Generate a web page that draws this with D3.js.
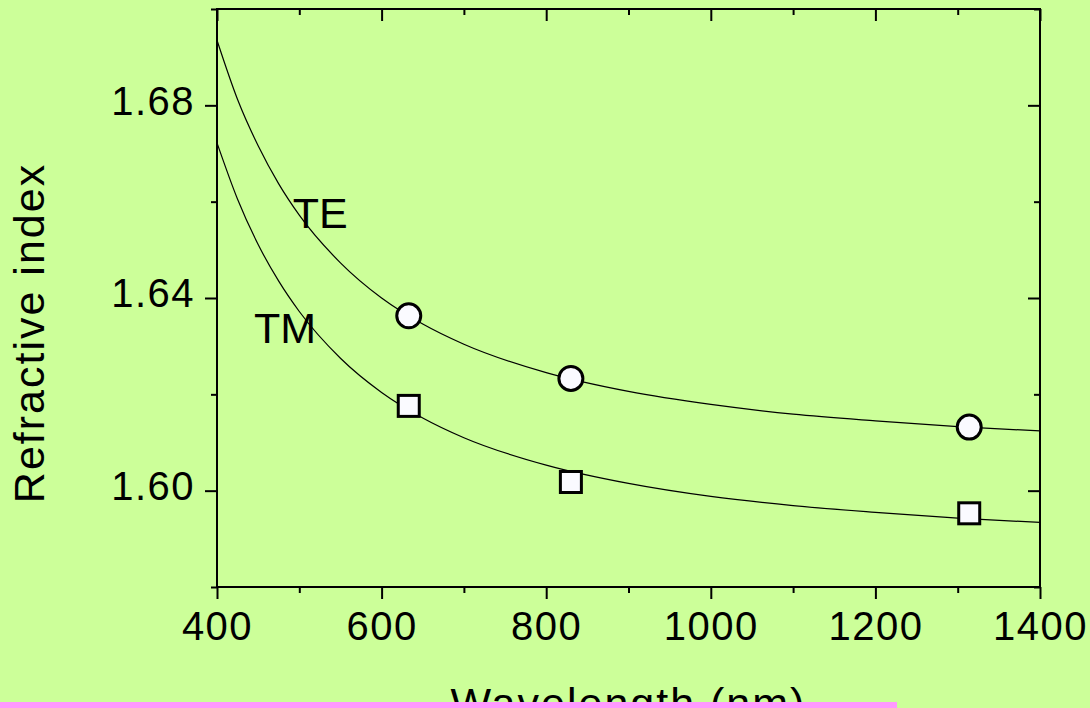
<!DOCTYPE html>
<html>
<head>
<meta charset="utf-8">
<script src="https://cdn.jsdelivr.net/npm/d3@7"></script>
<style>
  html, body { margin: 0; padding: 0; background: #ccff99; }
  svg { display: block; }
  text { font-family: "Liberation Sans", Arial, sans-serif; fill: #000; }
</style>
</head>
<body>
<svg id="chart" width="1090" height="708"></svg>
<script>
// measured points (wavelength in nm, refractive index)
const teWavelengths = [633, 830, 1314];
const teIndex = [1.6363, 1.6233, 1.6132];
const tmWavelengths = [633, 830, 1314];
const tmIndex = [1.6176, 1.6018, 1.5953];

// fitted curves
const fitWavelengths = [400, 425, 450, 475, 500, 550, 600, 650, 700, 800, 900, 1000, 1100, 1200, 1300, 1400];
const teFit = [1.6935, 1.6812, 1.6716, 1.6637, 1.6572, 1.6473, 1.6400, 1.6346, 1.6304, 1.6245, 1.6206, 1.6179, 1.6159, 1.6145, 1.6133, 1.6124];
const tmFit = [1.6722, 1.6605, 1.6511, 1.6435, 1.6372, 1.6275, 1.6204, 1.6151, 1.6110, 1.6053, 1.6015, 1.5988, 1.5969, 1.5955, 1.5943, 1.5934];

// ticks
const xMajor = [400, 600, 800, 1000, 1200, 1400];
const xMinor = [500, 700, 900, 1100, 1300];
const yMajor = [1.60, 1.64, 1.68];
const yMinor = [1.58, 1.62, 1.66, 1.70];

// curve labels
const curveLabels = ["TE", "TM"];
const labelWavelengths = [492, 445];
const labelIndex = [1.6545, 1.6306];

const svg = d3.select("#chart");

const x = d3.scaleLinear().domain([400, 1400]).range([217, 1040]);
const y = d3.scaleLinear().domain([1.58, 1.70]).range([587, 9]);

const tickFont = { size: "40px", spacing: "1.5px" };

function styleAxis(g) {
    g.select(".domain").remove();
    g.selectAll(".tick line").attr("stroke", "#000").attr("stroke-width", 2);
    g.selectAll(".tick text")
        .style("font-size", tickFont.size)
        .style("letter-spacing", tickFont.spacing)
        .attr("fill", "#000");
}

// bottom axis
svg.append("g")
    .attr("transform", `translate(0,${y.range()[0]})`)
    .call(d3.axisBottom(x).tickValues(xMajor).tickSize(12).tickPadding(13).tickFormat(d3.format("d")))
    .call(styleAxis);
svg.append("g")
    .attr("transform", `translate(0,${y.range()[0]})`)
    .call(d3.axisBottom(x).tickValues(xMinor).tickSize(6).tickFormat(""))
    .call(styleAxis);

// top axis (inward ticks)
svg.append("g")
    .attr("transform", `translate(0,${y.range()[1]})`)
    .call(d3.axisTop(x).tickValues(xMajor).tickSize(-12).tickFormat(""))
    .call(styleAxis);
svg.append("g")
    .attr("transform", `translate(0,${y.range()[1]})`)
    .call(d3.axisTop(x).tickValues(xMinor).tickSize(-6).tickFormat(""))
    .call(styleAxis);

// left axis
svg.append("g")
    .attr("transform", `translate(${x.range()[0]},0)`)
    .call(d3.axisLeft(y).tickValues(yMajor).tickSize(12).tickPadding(10).tickFormat(d3.format(".2f")))
    .call(styleAxis)
    .selectAll(".tick text").attr("dy", "0.22em");
svg.append("g")
    .attr("transform", `translate(${x.range()[0]},0)`)
    .call(d3.axisLeft(y).tickValues(yMinor).tickSize(6).tickFormat(""))
    .call(styleAxis);

// right axis (inward ticks)
svg.append("g")
    .attr("transform", `translate(${x.range()[1]},0)`)
    .call(d3.axisRight(y).tickValues(yMajor).tickSize(-12).tickFormat(""))
    .call(styleAxis);
svg.append("g")
    .attr("transform", `translate(${x.range()[1]},0)`)
    .call(d3.axisRight(y).tickValues(yMinor).tickSize(-6).tickFormat(""))
    .call(styleAxis);

// frame
svg.append("rect")
    .attr("x", x.range()[0])
    .attr("y", y.range()[1])
    .attr("width", x.range()[1] - x.range()[0])
    .attr("height", y.range()[0] - y.range()[1])
    .attr("fill", "none")
    .attr("stroke", "#000")
    .attr("stroke-width", 2);

// fitted curves
const line = d3.line()
    .x(d => x(d[0]))
    .y(d => y(d[1]))
    .curve(d3.curveMonotoneX);

[teFit, tmFit].forEach(series => {
    svg.append("path")
        .datum(fitWavelengths.map((w, i) => [w, series[i]]))
        .attr("d", line)
        .attr("fill", "none")
        .attr("stroke", "#000")
        .attr("stroke-width", 1.2);
});

// TE circles
svg.append("g").selectAll("circle")
    .data(teWavelengths.map((w, i) => [w, teIndex[i]]))
    .join("circle")
    .attr("cx", d => x(d[0]))
    .attr("cy", d => y(d[1]))
    .attr("r", 12)
    .attr("fill", "#fafaff")
    .attr("stroke", "#000")
    .attr("stroke-width", 3);

// TM squares
const side = 21;
svg.append("g").selectAll("rect")
    .data(tmWavelengths.map((w, i) => [w, tmIndex[i]]))
    .join("rect")
    .attr("x", d => x(d[0]) - side / 2)
    .attr("y", d => y(d[1]) - side / 2)
    .attr("width", side)
    .attr("height", side)
    .attr("fill", "#fafaff")
    .attr("stroke", "#000")
    .attr("stroke-width", 3);

// curve labels
svg.append("g").selectAll("text")
    .data(curveLabels)
    .join("text")
    .attr("x", (d, i) => x(labelWavelengths[i]))
    .attr("y", (d, i) => y(labelIndex[i]))
    .style("font-size", "43px")
    .text(d => d);

// axis titles
svg.append("text")
    .attr("x", (x.range()[0] + x.range()[1]) / 2)
    .attr("y", 718)
    .attr("text-anchor", "middle")
    .style("font-size", "43px")
    .style("letter-spacing", "2px")
    .text("Wavelength (nm)");

svg.append("text")
    .attr("transform", "translate(44,333) rotate(-90)")
    .attr("text-anchor", "middle")
    .style("font-size", "43px")
    .style("letter-spacing", "2px")
    .text("Refractive index");

// pink strip along the bottom
svg.append("rect")
    .attr("x", 0)
    .attr("y", 702)
    .attr("width", 897)
    .attr("height", 6)
    .attr("fill", "#ff99ff");
</script>
</body>
</html>
